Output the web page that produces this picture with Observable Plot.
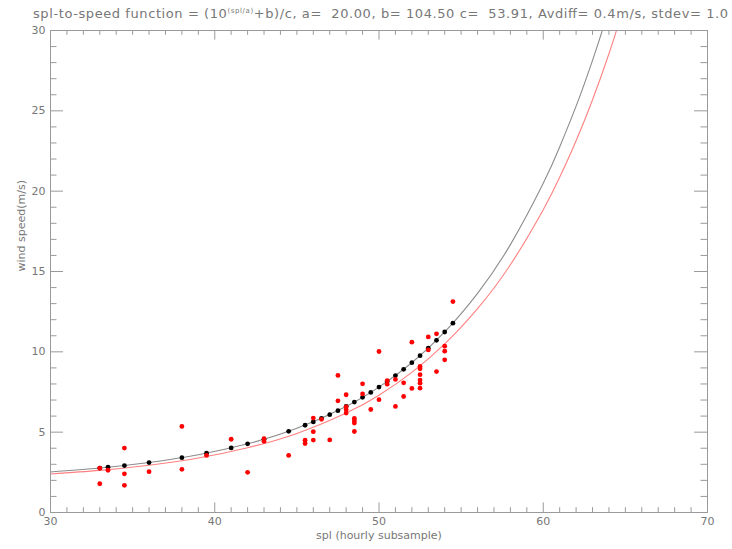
<!DOCTYPE html>
<html>
<head>
<meta charset="utf-8">
<script src="https://cdn.jsdelivr.net/npm/d3@7"></script>
<script src="https://cdn.jsdelivr.net/npm/@observablehq/plot@0.6"></script>
<style>
  html, body { margin: 0; padding: 0; background: #fff; }
  #chart { width: 732px; height: 549px; }
</style>
</head>
<body>
<div id="chart"></div>
<script>
// ---- data ----
const titleMain = "spl-to-speed function = (10";
const titleSup = "(spl/a)";
const titleRest = "+b)/c, a=  20.00, b= 104.50 c=  53.91, Avdiff= 0.4m/s, stdev= 1.0";
const xLabel = "spl (hourly subsample)";
const yLabel = "wind speed(m/s)";

const xMajorTicks = [30, 40, 50, 60, 70];
const xMinorTicks = [31,32,33,34,35,36,37,38,39,41,42,43,44,45,46,47,48,49,51,52,53,54,55,56,57,58,59,61,62,63,64,65,66,67,68,69];
const yMajorTicks = [0, 5, 10, 15, 20, 25, 30];
const yMinorTicks = [1,2,3,4,6,7,8,9,11,12,13,14,16,17,18,19,21,22,23,24,26,27,28,29];

// fitted curve (black) sampled along the picture
const fitX = [30, 33, 36, 39, 42, 45, 48, 50, 52, 54, 56, 58, 60, 61, 62, 63, 64, 65];
const fitY = [2.525, 2.767, 3.109, 3.592, 4.274, 5.237, 6.598, 7.804, 9.323, 11.235, 13.642, 16.673, 20.488, 22.751, 25.291, 28.140, 31.337, 34.93];

// second curve (red)
const redX = [30, 33, 36, 39, 42, 45, 48, 50, 52, 54, 56, 58, 60, 61, 62, 63, 64, 65];
const redY = [2.40, 2.62, 2.94, 3.39, 4.03, 4.92, 6.19, 7.30, 8.72, 10.49, 12.69, 15.42, 18.85, 20.86, 23.14, 25.69, 28.55, 31.75];

// black dots: fitted speed at each spl sample
const fitDotX = [33, 33.5, 34.5, 36, 38, 39.5, 41, 42, 43, 44.5, 45.5, 46, 46.5, 47, 47.5, 48, 48.5, 49, 49.5, 50, 50.5, 51, 51.5, 52, 52.5, 53, 53.5, 54, 54.5];
const fitDotY = [2.767, 2.816, 2.923, 3.109, 3.412, 3.690, 4.020, 4.274, 4.559, 5.052, 5.432, 5.640, 5.859, 6.091, 6.337, 6.598, 6.874, 7.166, 7.476, 7.804, 8.152, 8.520, 8.910, 9.323, 9.761, 10.224, 10.715, 11.235, 11.786];

// red dots: observed wind speed
const obsX = [33, 33, 33.5, 34.5, 34.5, 34.5, 36, 38, 38, 39.5, 41, 42, 43, 43, 44.5, 45.5, 45.5,
  46, 46, 46, 46.5, 47, 47.5, 47.5, 48, 48, 48, 48, 48.5, 48.5, 48.5, 48.5, 49, 49, 49.5,
  50, 50, 50.5, 50.5, 51, 51, 51.5, 51.5, 52, 52, 52.5, 52.5, 52.5, 52.5, 52.5, 52.5,
  53, 53, 53.5, 53.5, 54, 54, 54, 54.5];
const obsY = [2.76, 1.79, 2.63, 4.01, 2.41, 1.69, 2.54, 5.36, 2.69, 3.55, 4.56, 2.50, 4.59, 4.43, 3.55, 4.50, 4.29,
  5.88, 5.03, 4.51, 5.80, 4.52, 8.53, 6.95, 7.33, 6.58, 6.40, 6.19, 5.86, 5.71, 5.57, 5.04, 8.01, 7.38, 6.41,
  10.02, 7.02, 8.21, 7.99, 8.28, 6.60, 8.07, 7.22, 10.60, 7.72, 9.09, 8.94, 8.58, 8.24, 8.05, 7.74,
  10.93, 10.12, 11.12, 8.77, 10.35, 10.04, 9.50, 13.13];

// ---- build tables ----
const fitLine = fitX.map((x, i) => ({x, y: fitY[i]}));
const redLine = redX.map((x, i) => ({x, y: redY[i]}));
const fitDots = fitDotX.map((x, i) => ({x, y: fitDotY[i]}));
const obsDots = obsX.map((x, i) => ({x, y: obsY[i]}));

const W = 732, H = 549;
const mL = 50, mR = 25, mT = 30, mB = 37;
const fw = W - mL - mR, fh = H - mT - mB;
const axisGray = "#9a9a9a";
const txtGray = "#777777";
const font = "DejaVu Sans, sans-serif";

const plot = Plot.plot({
  width: W, height: H,
  marginLeft: mL, marginRight: mR, marginTop: mT, marginBottom: mB,
  style: {fontFamily: font, fontSize: "11px", color: txtGray, background: "#fff"},
  x: {domain: [30, 70]},
  y: {domain: [0, 30]},
  marks: [
    Plot.line(fitLine, {x: "x", y: "y", curve: "natural", stroke: "#8c8c8c", strokeWidth: 1.1, clip: true}),
    Plot.line(redLine, {x: "x", y: "y", curve: "natural", stroke: "#ff8080", strokeWidth: 1.1, clip: true}),
    Plot.dot(fitDots, {x: "x", y: "y", r: 2.4, fill: "#000", stroke: null}),
    Plot.dot(obsDots, {x: "x", y: "y", r: 2.4, fill: "#ff0000", stroke: null}),
    Plot.frame({stroke: axisGray}),
    // inward ticks, bottom and top
    Plot.tickX(xMajorTicks, {x: d => d, stroke: axisGray, insetTop: fh - 9.6}),
    Plot.tickX(xMinorTicks, {x: d => d, stroke: axisGray, insetTop: fh - 4.8}),
    Plot.tickX(xMajorTicks, {x: d => d, stroke: axisGray, insetBottom: fh - 9.6}),
    Plot.tickX(xMinorTicks, {x: d => d, stroke: axisGray, insetBottom: fh - 4.8}),
    // inward ticks, left and right
    Plot.tickY(yMajorTicks, {y: d => d, stroke: axisGray, insetRight: fw - 13}),
    Plot.tickY(yMinorTicks, {y: d => d, stroke: axisGray, insetRight: fw - 6.5}),
    Plot.tickY(yMajorTicks, {y: d => d, stroke: axisGray, insetLeft: fw - 13}),
    Plot.tickY(yMinorTicks, {y: d => d, stroke: axisGray, insetLeft: fw - 6.5}),
    Plot.axisX({ticks: xMajorTicks, tickSize: 0, tickPadding: 5, label: null, tickFormat: d => String(d)}),
    Plot.axisY({ticks: yMajorTicks, tickSize: 0, tickPadding: 5, label: null, tickFormat: d => String(d)}),
    Plot.text([xLabel], {text: d => d, frameAnchor: "bottom", dy: 26, fill: txtGray, fontSize: 11}),
    Plot.text([yLabel], {text: d => d, frameAnchor: "left", dx: -29, rotate: -90, fill: txtGray, fontSize: 11})
  ]
});

// title with superscript
const svg = d3.select(plot);
const t = svg.append("text")
  .attr("x", 33).attr("y", 18)
  .attr("text-anchor", "start")
  .attr("fill", txtGray)
  .attr("font-family", font)
  .attr("font-size", 13)
  .style("white-space", "pre");
t.append("tspan").text(titleMain);
t.append("tspan").attr("font-size", 7).attr("dy", -5).text(titleSup);
t.append("tspan").attr("dy", 5).text(titleRest);

document.getElementById("chart").appendChild(plot);

// stretch title to the reference width if needed
const node = t.node();
const len = node.getComputedTextLength();
if (len > 0 && Math.abs(len - 695) > 4) {
  t.attr("textLength", 695).attr("lengthAdjust", "spacing");
}
</script>
</body>
</html>
